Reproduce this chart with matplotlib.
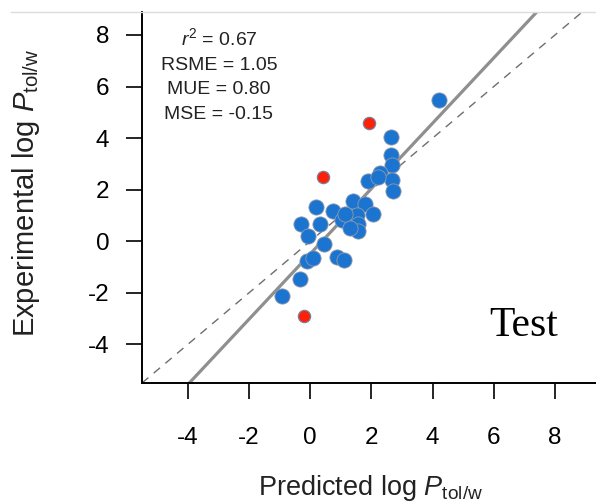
import matplotlib
matplotlib.use("Agg")
import matplotlib.pyplot as plt
from matplotlib.lines import Line2D

plt.rcParams['font.family'] = ['Liberation Sans', 'DejaVu Sans']
plt.rcParams['mathtext.fontset'] = 'custom'
plt.rcParams['mathtext.rm'] = 'Liberation Sans'
plt.rcParams['mathtext.it'] = 'Liberation Sans:italic'
plt.rcParams['axes.unicode_minus'] = False

# test set: predicted vs experimental log P
pred_blue = [4.21, 2.64, 2.65, 2.66, 2.28, 1.90, 2.66, 2.71, 1.41, 1.79,
             2.06, 0.75, 0.19, 1.03, 1.52, 1.57, 1.57, 1.30, -0.31, 0.32,
             -0.07, 0.45, 0.86, 1.11, -0.12, 0.10, -0.33, -0.93, 1.13, 2.21]
exp_blue = [5.48, 4.03, 3.35, 2.97, 2.65, 2.32, 2.39, 1.93, 1.55, 1.46,
            1.07, 1.16, 1.32, 0.84, 1.01, 0.65, 0.41, 0.52, 0.68, 0.65,
            0.19, -0.09, -0.60, -0.71, -0.77, -0.64, -1.45, -2.14, 1.07, 2.50]
# outliers
pred_red = [1.92, 0.42, -0.22]
exp_red = [4.58, 2.48, -2.91]

fit_slope = 1.267
fit_intercept = -0.49

stats = [r'$r^2$ = 0.67', 'RSME = 1.05', 'MUE = 0.80', 'MSE = -0.15']
ticks = [-4, -2, 0, 2, 4, 6, 8]

fig = plt.figure(figsize=(5.96, 5.03), dpi=100)
ax = fig.add_axes([142/596, 1-383/503, 1-142/596, 371/503])

ax.axline((0, 0), slope=1, color='#6e6e6e', lw=1.0, ls=(0, (6, 5)), zorder=1)
ax.axline((0, fit_intercept), slope=fit_slope, color='#8f8f8f', lw=2.3, zorder=2)

ax.scatter(pred_blue, exp_blue, s=120, c='#1b74d0', edgecolors='#8e99aa',
           linewidths=0.6, zorder=3)
ax.scatter(pred_red, exp_red, s=78, c='#fb2208', edgecolors='#7a7fa0',
           linewidths=0.9, zorder=4)

ax.set_xlim(-5.5, 9.34)
ax.set_ylim(-5.5, 8.89)
ax.set_xticks(ticks)
ax.set_yticks(ticks)
ax.tick_params(axis='both', labelsize=17.5, length=11.5, width=1.2, direction='out')
ax.tick_params(axis='x', pad=20)
ax.tick_params(axis='y', pad=12)
for s in ['top', 'right']:
    ax.spines[s].set_visible(False)
for s in ['left', 'bottom']:
    ax.spines[s].set_linewidth(1.4)

for i, t in enumerate(stats):
    ax.text(0.1696, 0.911 - i*0.0665, t, transform=ax.transAxes, ha='center',
            va='baseline', fontsize=14, color='#222222')

ax.text(524/596, 1-336/503, 'Test', transform=fig.transFigure, ha='center',
        va='baseline', fontsize=30, family='Liberation Serif')

fig.text(371/596, 1-495/503, r'Predicted log $P_{\mathregular{tol/w}}$',
         ha='center', va='baseline', fontsize=19.5, color='#222222')
fig.text(26/596, 1-193/503, r'Experimental log $P_{\mathregular{tol/w}}$',
         ha='center', va='center', rotation=90, fontsize=21, color='#222222')

# faint frame line at the top of the picture
fig.add_artist(Line2D([11/596, 1], [1-12/503, 1-12/503], color='#dcdcdc', lw=1.0))

fig.savefig('out.png', dpi=100)
